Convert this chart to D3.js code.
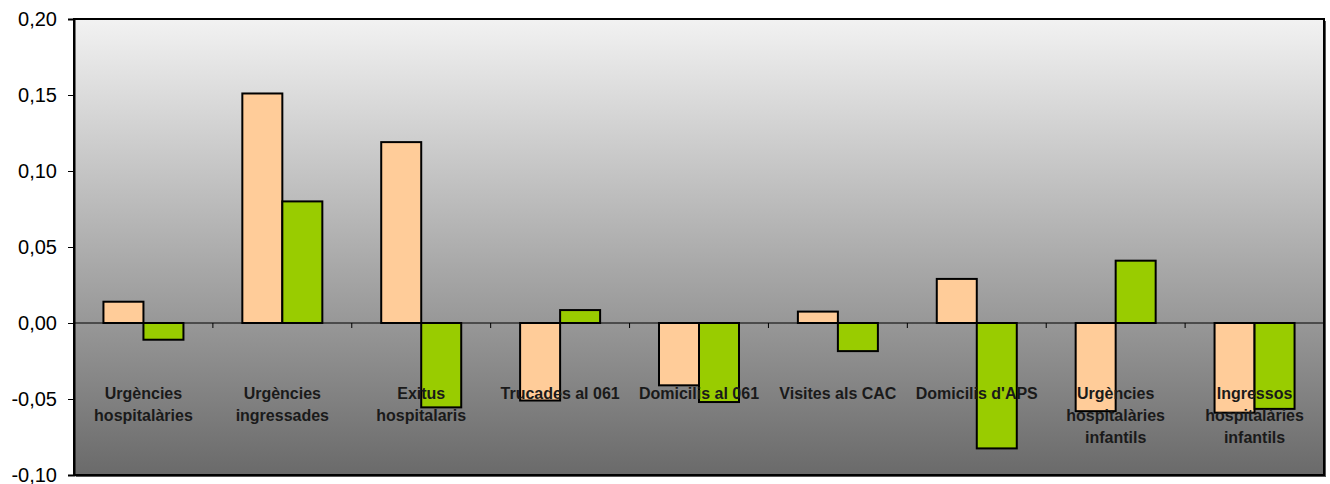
<!DOCTYPE html>
<html><head><meta charset="utf-8">
<script src="https://cdn.jsdelivr.net/npm/d3@7"></script>
<style>body{margin:0;background:#fff;}svg{display:block;}</style>
</head><body>
<svg id="c" width="1330" height="484"></svg>
<script>
const categories = [
  ["Urgències","hospitalàries"],
  ["Urgències","ingressades"],
  ["Exitus","hospitalaris"],
  ["Trucades al 061"],
  ["Domicilis al 061"],
  ["Visites als CAC"],
  ["Domicilis d'APS"],
  ["Urgències","hospitalàries","infantils"],
  ["Ingressos","hospitalàries","infantils"]
];
const series1 = [0.014, 0.151, 0.119, -0.051, -0.041, 0.0075, 0.029, -0.058, -0.059];
const series2 = [-0.011, 0.080, -0.0555, 0.0085, -0.052, -0.0185, -0.0825, 0.041, -0.0565];
const yTicks = [-0.10, -0.05, 0.00, 0.05, 0.10, 0.15, 0.20];
const colors = ["#FFCC99", "#99CC00"];

const svg = d3.select("#c");
const L = 74, R = 1324, T = 19, B = 475;
const x = d3.scaleBand().domain(d3.range(categories.length)).range([L, R]).paddingInner(0).paddingOuter(0);
const y = d3.scaleLinear().domain([-0.10, 0.20]).range([B, T]);
const inner = 80;
const xs = d3.scaleBand().domain([0,1]).range([0, inner]);

const defs = svg.append("defs");
const g = defs.append("linearGradient").attr("id","bg").attr("x1",0).attr("y1",0).attr("x2",0).attr("y2",1);
g.append("stop").attr("offset","0%").attr("stop-color","#f2f2f2");
g.append("stop").attr("offset","100%").attr("stop-color","#6a6a6a");

// shadow
svg.append("rect").attr("x",L+2).attr("y",T+2).attr("width",R-L).attr("height",B-T).attr("fill","#555");
svg.append("rect").attr("x",L).attr("y",T).attr("width",R-L).attr("height",B-T).attr("fill","url(#bg)");

// zero line & ticks
svg.append("line").attr("x1",L).attr("x2",R).attr("y1",y(0)).attr("y2",y(0)).attr("stroke","#000").attr("stroke-width",1);
svg.selectAll(".ct").data(d3.range(1,categories.length)).enter().append("line")
  .attr("x1",d=>x(d)).attr("x2",d=>x(d)).attr("y1",y(0)).attr("y2",y(0)+5).attr("stroke","#000");

// bars
[series1, series2].forEach((ser,si)=>{
  svg.append("g").selectAll("rect").data(ser).enter().append("rect")
    .attr("x",(d,i)=>x(i)+(x.bandwidth()-inner)/2+xs(si))
    .attr("width",xs.bandwidth())
    .attr("y",d=>y(Math.max(0,d)))
    .attr("height",d=>Math.abs(y(d)-y(0)))
    .attr("fill",colors[si]).attr("stroke","#000").attr("stroke-width",2);
});

// labels (drawn over bars)
const lab = svg.append("g").attr("font-family","Liberation Sans, Arial, sans-serif").attr("font-weight","bold").attr("font-size","16px").attr("fill","#1a1a1a").attr("text-anchor","middle");
categories.forEach((lines,i)=>{
  const cx = x(i)+x.bandwidth()/2;
  const t = lab.append("text").attr("x", cx).attr("y", 399);
  lines.forEach((s,j)=>t.append("tspan").attr("x", cx).attr("dy", j===0?0:22).text(s));
});

// border
svg.append("rect").attr("x",L).attr("y",T).attr("width",R-L).attr("height",B-T).attr("fill","none").attr("stroke","#000").attr("stroke-width",2);

// y axis
const ya = svg.append("g").attr("transform",`translate(${L},0)`)
  .call(d3.axisLeft(y).tickValues(yTicks).tickSize(6).tickPadding(11).tickFormat(d=>d3.format(".2f")(d).replace(".",",").replace("−","-")));
ya.select(".domain").attr("stroke","#000").attr("stroke-width",2);
ya.selectAll(".tick line").attr("stroke","#000");
ya.selectAll("text").attr("font-family","Liberation Sans, Arial, sans-serif").attr("font-size","20px").attr("fill","#000");
</script>
</body></html>
